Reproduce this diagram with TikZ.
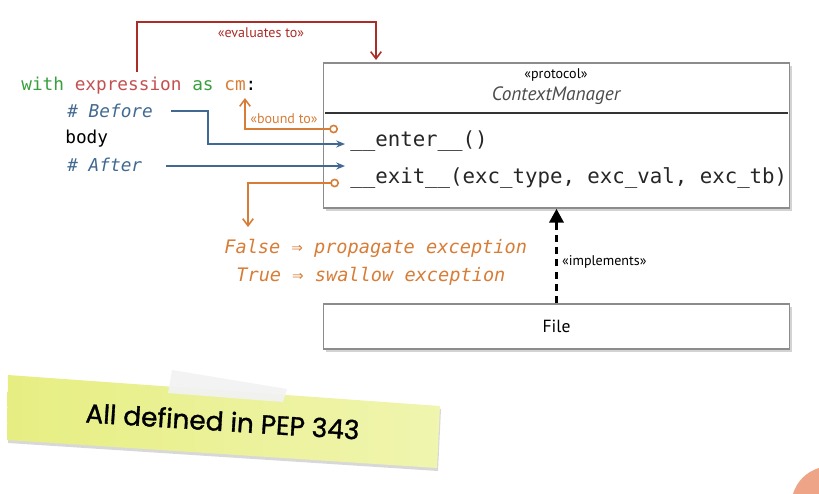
\documentclass[tikz,border=0pt]{standalone}
\usepackage{fontspec}
\setmainfont{PT Sans}
\setmonofont{DejaVu Sans Mono}
\newfontfamily\notefont[FakeBold=1.2]{Poppins}
\usetikzlibrary{positioning,shadows,arrows.meta}
\definecolor{kwgreen}{RGB}{55,160,60}
\definecolor{exprred}{RGB}{195,80,80}
\definecolor{cmorange}{RGB}{215,125,55}
\definecolor{cmtblue}{RGB}{65,105,145}
\definecolor{evalred}{RGB}{170,45,40}
\definecolor{noteleft}{RGB}{230,238,130}
\definecolor{noteright}{RGB}{240,245,175}
\definecolor{cornerdot}{RGB}{238,165,135}

\begin{document}
\begin{tikzpicture}[x=0.02cm,y=-0.02cm,
  code/.style={font=\ttfamily\fontsize{10.1}{12}\selectfont,anchor=base west,inner sep=0pt},
  method/.style={font=\ttfamily\fontsize{11.8}{14}\selectfont,text=black!85,anchor=base west,inner sep=0pt},
  umlbox/.style={draw=black!45,fill=white,line width=.8pt,minimum width=9.32cm,
    drop shadow={shadow xshift=1.5pt,shadow yshift=-1.5pt,opacity=.35}},
  stereo/.style={font=\fontsize{8}{9}\selectfont,inner sep=1pt},
  flow/.style={draw=cmtblue,line width=.9pt,-{Stealth[length=5pt,width=4pt]}},
  bound/.style={draw=cmorange,line width=.9pt,
    {Circle[open,length=5pt,width=5pt,fill=white]}-{Straight Barb[length=4pt,width=6pt]}},
  implements/.style={draw=black,line width=2pt,dash pattern=on 4pt off 3pt,
    -{Triangle[length=8pt,width=8pt]}},
  ]
\useasboundingbox (0,0) rectangle (819,494);

% the protocol and the class
\node[umlbox,minimum height=2.9cm] (cmbox) at (556.5,135.5) {};
\draw[black!80,line width=1pt] (325,113) -- (788,113);
\node[stereo] (proto) at (556,75) {«protocol»};
\node[font=\itshape\fontsize{11}{13}\selectfont,text=black!70] (cmname) at (556,96) {ContextManager};
\node[method] (enter) at (350,146) {\_\_enter\_\_()};
\node[method] (exit) at (350,183) {\_\_exit\_\_(exc\_type, exc\_val, exc\_tb)};
\node[umlbox,minimum height=.9cm,font=\fontsize{10}{12}\selectfont] (filebox) at (556.5,326.5) {File};

% the with statement
\node[code] (withline) at (21,90) {\textcolor{kwgreen}{with} \textcolor{exprred}{expression} \textcolor{kwgreen}{as} \textcolor{cmorange}{cm}:};
\node[code,text=cmtblue,font=\ttfamily\itshape\fontsize{10.1}{12}\selectfont] (before) at (67,117) {\# Before};
\node[code] (body) at (65,143) {body};
\node[code,text=cmtblue,font=\ttfamily\itshape\fontsize{10.1}{12}\selectfont] (after) at (67,171) {\# After};

% ends of the connectors
\coordinate (evalstart) at (137,72);
\coordinate (evalend) at (376,60);
\coordinate (beforeout) at (171,111);
\coordinate (enterin) at (345,144);
\coordinate (afterout) at (166,166);
\coordinate (exitin) at (345,166);
\coordinate (enterret) at (338,129);
\coordinate (cmin) at (245,98);
\coordinate (exitret) at (339,183);
\coordinate (resultin) at (248,227);

\draw[evalred,line width=.9pt,-{Straight Barb[length=4pt,width=6pt]}] (evalstart) -- ++(0,-50) -| (evalend);
\node[stereo,text=evalred] (evallbl) at (261,33) {«evaluates to»};
\draw[flow] (beforeout) -- (208,111) |- (enterin);
\draw[flow] (afterout) -- (exitin);
\draw[bound] (enterret) -| (cmin);
\node[stereo,text=cmorange] (boundlbl) at (284,119) {«bound to»};
\draw[bound] (exitret) -| (resultin);

% what __exit__ returns
\node[code,text=cmorange,font=\ttfamily\itshape\fontsize{10.6}{12}\selectfont] (falsetxt) at (224,253) {False ⇒ propagate exception};
\node[code,text=cmorange,font=\ttfamily\itshape\fontsize{10.6}{12}\selectfont] (truetxt) at (236,281) {True ⇒ swallow exception};

\draw[implements] (filebox.north) -- (cmbox.south);
\node[stereo,anchor=west] (impllbl) at (560,262) {«implements»};

% sticky note
\fill[black!30,opacity=.5] (9,378) -- (441,409) -- (438,471) -- (8,443) -- cycle;
\shade[left color=noteleft,right color=noteright] (8,375) -- (440,406) -- (437,468) -- (7,440) -- cycle;
\fill[gray!10,opacity=.95] (172,370) -- (287,389) -- (283,402) -- (168,393) -- cycle;
\node[font=\notefont\fontsize{15}{18}\selectfont,rotate=-3.6,anchor=base] (note) at (222,431) {All defined in PEP 343};

% corner of the slide
\begin{scope}
\clip (0,0) rectangle (819,494);
\fill[cornerdot] (830,505) circle (38.6);
\end{scope}
\end{tikzpicture}
\end{document}
